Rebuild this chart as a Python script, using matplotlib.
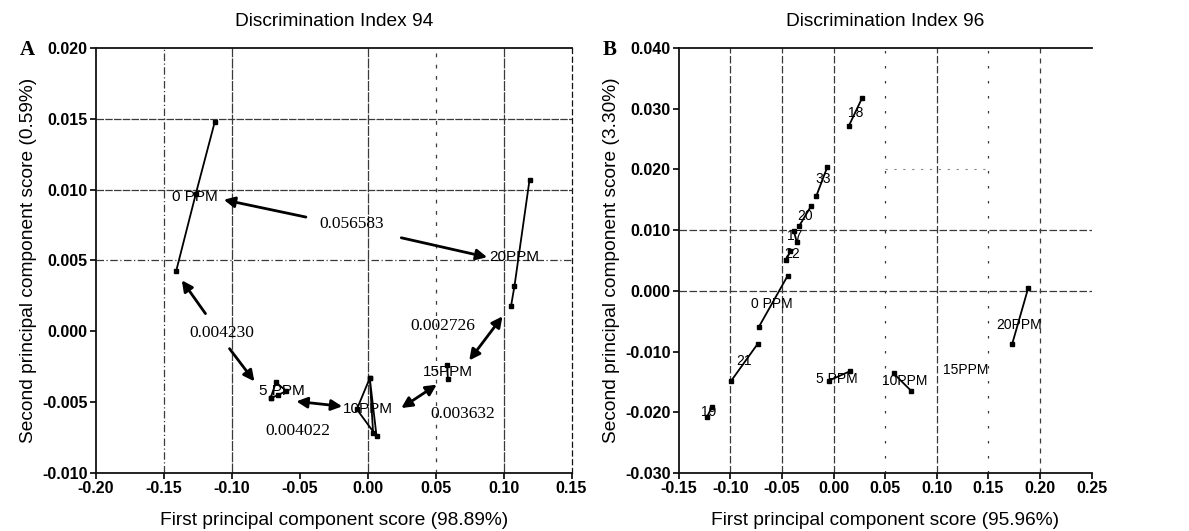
import matplotlib
matplotlib.use("Agg")
import matplotlib.pyplot as plt

# ---------------- Panel A data (Discrimination Index 94) ----------------
a_0ppm_x = [-0.1126, -0.1265, -0.1410]
a_0ppm_y = [0.01476, 0.0097, 0.00424]
a_5ppm_x = [-0.0715, -0.0675, -0.0600, -0.0660, -0.0715]
a_5ppm_y = [-0.0047, -0.0036, -0.0042, -0.0045, -0.0047]
a_10ppm_x = [0.0015, -0.0080, 0.0065, 0.0015, 0.0040]
a_10ppm_y = [-0.0033, -0.0055, -0.0074, -0.0033, -0.0072]
a_15ppm_x = [0.0584, 0.0590]
a_15ppm_y = [-0.00235, -0.00334]
a_20ppm_x = [0.1191, 0.1080, 0.1055]
a_20ppm_y = [0.0107, 0.0032, 0.0018]

a_labels = ["0 PPM", "5 PPM", "10PPM", "15PPM", "20PPM"]
a_label_x = [-0.127, -0.063, 0.000, 0.059, 0.108]
a_label_y = [0.00946, -0.00424, -0.00546, -0.00289, 0.00523]

a_dist_text = ["0.056583", "0.004230", "0.004022", "0.003632", "0.002726"]
a_dist_x = [-0.0118, -0.1073, -0.0517, 0.0702, 0.0551]
a_dist_y = [0.00754, -0.00012, -0.00706, -0.00581, 0.00040]

# single-headed arrows: (tail_x, tail_y, head_x, head_y)
a_arrow_tail_x = [-0.0455, 0.0247, -0.1194, -0.1017]
a_arrow_tail_y = [0.00806, 0.00660, 0.00125, -0.00122]
a_arrow_head_x = [-0.1059, 0.0879, -0.1368, -0.0834]
a_arrow_head_y = [0.00928, 0.00523, 0.00360, -0.00353]
# double-headed arrows
a_darrow_x1 = [-0.0525, 0.0247, 0.0747]
a_darrow_y1 = [-0.00494, -0.00541, -0.00205]
a_darrow_x2 = [-0.0188, 0.0508, 0.0992]
a_darrow_y2 = [-0.00529, -0.00376, 0.00106]

a_xticks = [-0.20, -0.15, -0.10, -0.05, 0.00, 0.05, 0.10, 0.15]
a_yticks = [-0.010, -0.005, 0.000, 0.005, 0.010, 0.015, 0.020]

# ---------------- Panel B data (Discrimination Index 96) ----------------
b_groups = ["18", "33", "20", "17", "22", "0 PPM", "21", "19", "5 PPM", "10PPM", "20PPM"]
b_x1 = [0.0146, -0.0168, -0.0333, -0.0388, -0.0459, -0.0446, -0.0734, -0.1229, -0.0049, 0.0582, 0.1886]
b_y1 = [0.0271, 0.0156, 0.0107, 0.0099, 0.0051, 0.00247, -0.00867, -0.0208, -0.0148, -0.0136, 0.00044]
b_x2 = [0.0275, -0.0061, -0.0217, -0.0356, -0.0420, -0.0728, -0.0993, -0.1180, 0.0162, 0.0754, 0.1730]
b_y2 = [0.0317, 0.0204, 0.0140, 0.0080, 0.0065, -0.00603, -0.0148, -0.0191, -0.0132, -0.0165, -0.0088]
b_label_x = [0.021, -0.0097, -0.0275, -0.0378, -0.0404, -0.0598, -0.0873, -0.1213, 0.0032, 0.0689, 0.1795]
b_label_y = [0.0293, 0.0184, 0.0123, 0.0090, 0.0060, -0.0021, -0.0115, -0.0200, -0.0145, -0.0149, -0.0056]
b_extra_label = "15PPM"
b_extra_x = 0.1277
b_extra_y = -0.0130

b_xticks = [-0.15, -0.10, -0.05, 0.00, 0.05, 0.10, 0.15, 0.20, 0.25]
b_yticks = [-0.030, -0.020, -0.010, 0.000, 0.010, 0.020, 0.030, 0.040]

SANS = ["Liberation Sans", "DejaVu Sans"]
SERIF = ["Liberation Serif", "DejaVu Serif"]
GRID = "#3a3a3a"

fig = plt.figure(figsize=(11.89, 5.31), dpi=100)
axA = fig.add_axes([0.0807, 0.109, 0.400, 0.801])
axB = fig.add_axes([0.571, 0.109, 0.347, 0.801])


def style_axes(ax, xticks, yticks, xfmt, yfmt, xlabel, ylabel, title):
    ax.set_xlim(xticks[0], xticks[-1])
    ax.set_ylim(yticks[0], yticks[-1])
    ax.set_xticks(xticks)
    ax.set_yticks(yticks)
    ax.set_xticklabels([xfmt.format(v) for v in xticks], family=SANS,
                       fontweight="bold", fontsize=11.5)
    ax.set_yticklabels([yfmt.format(v) for v in yticks], family=SANS,
                       fontweight="bold", fontsize=11.5)
    ax.tick_params(direction="out", length=4, width=1.2, pad=2, colors="black")
    for s in ax.spines.values():
        s.set_linewidth(1.3)
        s.set_color("#111111")
    ax.set_xlabel(xlabel, family=SANS, fontsize=13.8, labelpad=11)
    ax.set_ylabel(ylabel, family=SANS, fontsize=13.8, labelpad=4)
    ax.set_title(title, family=SANS, fontsize=13.8, pad=16)


style_axes(axA, a_xticks, a_yticks, "{:.2f}", "{:.3f}",
           "First principal component score (98.89%)",
           "Second principal component score (0.59%)",
           "Discrimination Index 94")
style_axes(axB, b_xticks, b_yticks, "{:.2f}", "{:.3f}",
           "First principal component score (95.96%)",
           "Second principal component score (3.30%)",
           "Discrimination Index 96")

# ---- grid lines panel A ----
for xv, ls in [(-0.15, (0, (6, 2, 1, 2))), (-0.10, (0, (8, 1))), (0.00, (0, (8, 1))),
               (0.05, (0, (3, 6))), (0.10, (0, (8, 1)))]:
    axA.axvline(xv, color=GRID, lw=0.9, ls=ls, zorder=0)
for yv, ls in [(0.015, (0, (6, 1))), (0.010, (0, (6, 1))), (0.005, (0, (6, 2, 1, 2)))]:
    axA.axhline(yv, color=GRID, lw=0.9, ls=ls, zorder=0)
axA.spines["right"].set_linestyle((0, (4, 3)))
axA.spines["right"].set_linewidth(0.9)

# ---- grid lines panel B ----
for xv, ls in [(-0.10, (0, (6, 2))), (-0.05, (0, (6, 2))), (0.00, (0, (6, 2))),
               (0.05, (0, (2, 10))), (0.10, (0, (6, 2))), (0.15, (0, (2, 10))),
               (0.20, (0, (4, 4)))]:
    axB.axvline(xv, color=GRID, lw=0.9, ls=ls, zorder=0)
for yv in [0.010, 0.000]:
    axB.axhline(yv, color=GRID, lw=0.9, ls=(0, (6, 2)), zorder=0)
axB.hlines(0.020, 0.05, 0.15, color="#888888", lw=0.8, ls=(0, (2, 6)), zorder=0)
axB.spines["right"].set_visible(False)

# ---- panel A marks ----
mk = dict(color="black", lw=1.3, marker="s", ms=2.5)
for xs, ys in [(a_0ppm_x, a_0ppm_y), (a_5ppm_x, a_5ppm_y), (a_10ppm_x, a_10ppm_y),
               (a_15ppm_x, a_15ppm_y), (a_20ppm_x, a_20ppm_y)]:
    axA.plot(xs, ys, **mk)

for t, x, y in zip(a_labels, a_label_x, a_label_y):
    axA.text(x, y, t, family=SANS, fontsize=11, ha="center", va="center")
for t, x, y in zip(a_dist_text, a_dist_x, a_dist_y):
    axA.text(x, y, t, family=SERIF, fontsize=12.5, ha="center", va="center")

for tx, ty, hx, hy in zip(a_arrow_tail_x, a_arrow_tail_y, a_arrow_head_x, a_arrow_head_y):
    axA.annotate("", xy=(hx, hy), xytext=(tx, ty),
                 arrowprops=dict(arrowstyle="-|>", lw=2.0, color="black",
                                 mutation_scale=16, shrinkA=0, shrinkB=0))
for x1, y1, x2, y2 in zip(a_darrow_x1, a_darrow_y1, a_darrow_x2, a_darrow_y2):
    axA.annotate("", xy=(x2, y2), xytext=(x1, y1),
                 arrowprops=dict(arrowstyle="<|-|>", lw=2.0, color="black",
                                 mutation_scale=16, shrinkA=0, shrinkB=0))

# ---- panel B marks ----
for x1, y1, x2, y2 in zip(b_x1, b_y1, b_x2, b_y2):
    axB.plot([x1, x2], [y1, y2], **mk)
for t, x, y in zip(b_groups, b_label_x, b_label_y):
    axB.text(x, y, t, family=SANS, fontsize=10, ha="center", va="center")
axB.text(b_extra_x, b_extra_y, b_extra_label, family=SANS, fontsize=10,
         ha="center", va="center")

fig.text(0.017, 0.905, "A", family=SERIF, fontweight="bold", fontsize=15,
         ha="left", va="center")
fig.text(0.507, 0.905, "B", family=SERIF, fontweight="bold", fontsize=15,
         ha="left", va="center")

fig.savefig("out.png", dpi=100)
